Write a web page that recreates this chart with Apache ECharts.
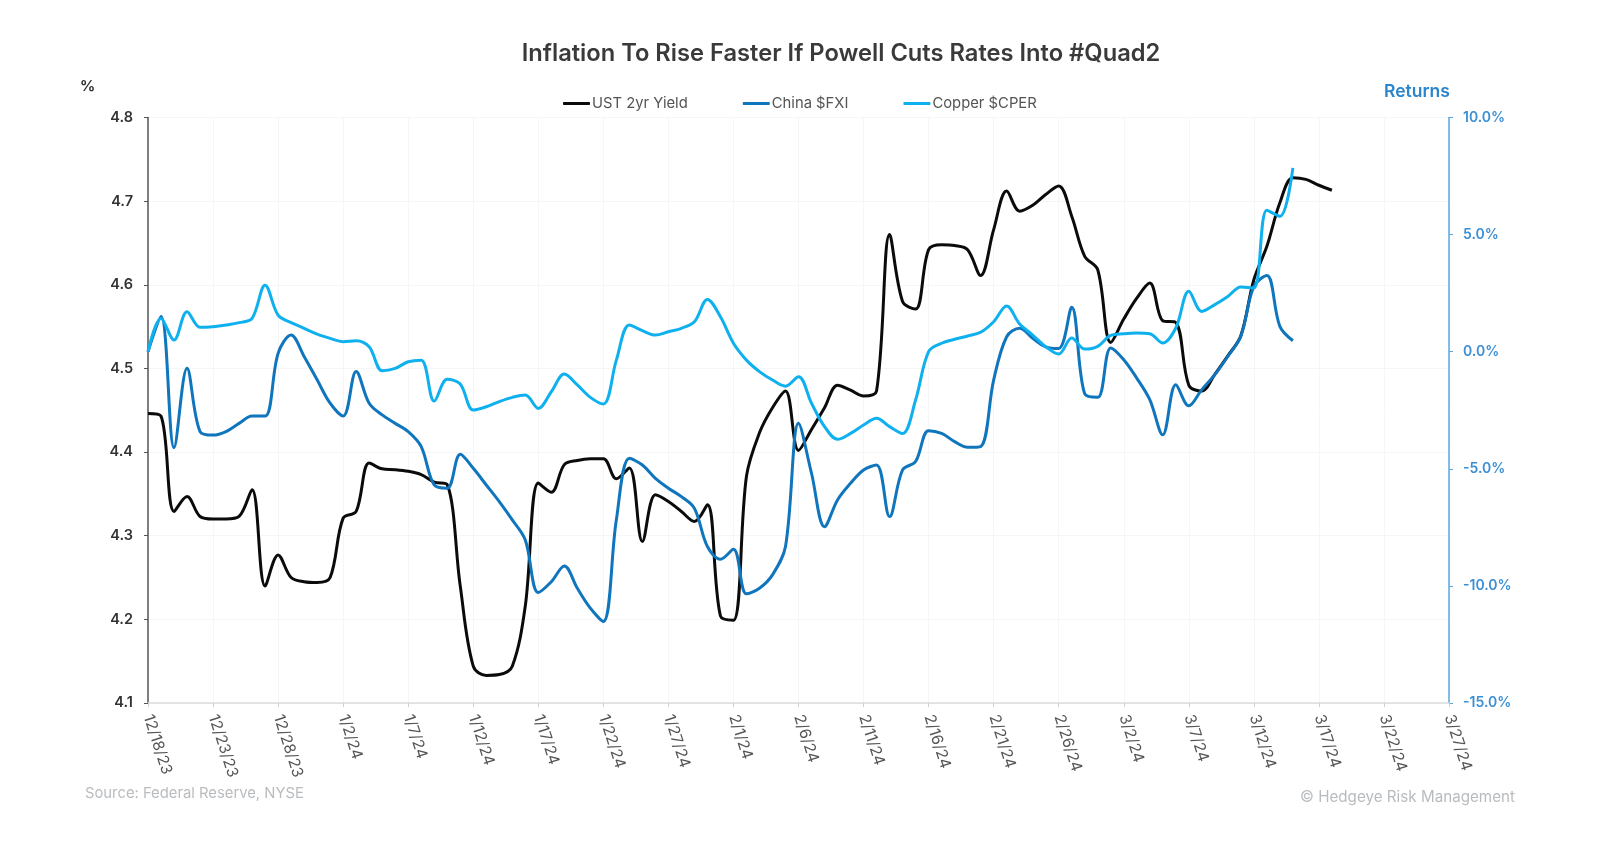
<!DOCTYPE html>
<html>
<head>
<meta charset="utf-8">
<title>Inflation To Rise Faster If Powell Cuts Rates Into #Quad2</title>
<script src="https://cdn.jsdelivr.net/npm/echarts@6/dist/echarts.min.js"></script>
<style>
html,body{margin:0;padding:0;background:#fff}
#main{width:1600px;height:855px}
</style>
</head>
<body>
<div id="main"></div>
<script>
// daily values, first value is 12/18/23
var ust2y = [4.446,4.443,4.329,4.347,4.323,4.32,4.32,4.323,4.355,4.24,4.277,4.25,4.245,4.244,4.25,4.321,4.329,4.387,4.38,4.379,
  4.377,4.373,4.364,4.361,4.24,4.144,4.133,4.134,4.144,4.216,4.363,4.352,4.385,4.39,4.392,4.392,4.368,4.381,4.293,4.349,
  4.341,4.329,4.317,4.337,4.204,4.199,4.371,4.423,4.453,4.473,4.402,4.427,4.453,4.48,4.474,4.467,4.473,4.66,4.58,4.571,
  4.642,4.648,4.647,4.642,4.611,4.666,4.712,4.688,4.695,4.708,4.718,4.682,4.634,4.618,4.531,4.559,4.584,4.602,4.557,4.555,
  4.48,4.473,4.493,4.515,4.539,4.606,4.646,4.698,4.728,4.726,4.719,4.713];
var fxi = [0,1.5,-4.1,-0.71,-3.41,-3.56,-3.41,-3.06,-2.75,-2.75,-0.07,0.71,-0.2,-1.2,-2.2,-2.75,-0.85,-2.2,-2.7,-3.06,
  -3.41,-4.05,-5.69,-5.83,-4.38,-4.98,-5.69,-6.4,-7.18,-8.04,-10.28,-9.82,-9.15,-10.1,-10.95,-11.52,-7.18,-4.55,-4.84,-5.41,
  -5.83,-6.19,-6.69,-8.32,-8.86,-8.44,-10.34,-10.1,-9.53,-8.32,-3.06,-5.19,-7.47,-6.33,-5.62,-5.05,-4.84,-7.04,-5.05,-4.69,
  -3.37,-3.49,-3.84,-4.08,-4.05,-1.21,0.64,1.0,0.57,0.21,0.14,1.9,-1.8,-1.95,0.16,-0.34,-1.13,-2.05,-3.55,-1.41,
  -2.31,-1.62,-0.98,-0.2,0.66,2.79,3.25,1.08,0.47];
var cper = [0,1.42,0.5,1.71,1.04,1.07,1.14,1.24,1.42,2.84,1.56,1.24,1.0,0.75,0.57,0.43,0.47,0.21,-0.81,-0.71,
  -0.43,-0.36,-2.11,-1.18,-1.38,-2.49,-2.35,-2.13,-1.95,-1.85,-2.42,-1.71,-0.95,-1.42,-1.95,-2.23,-0.36,1.14,0.9,0.71,
  0.85,1.0,1.28,2.23,1.49,0.36,-0.36,-0.85,-1.21,-1.47,-1.07,-2.2,-3.2,-3.74,-3.49,-3.13,-2.84,-3.2,-3.49,-2.06,
  0,0.36,0.53,0.67,0.83,1.28,1.95,1.18,0.71,0.21,-0.1,0.58,0.11,0.23,0.7,0.77,0.8,0.77,0.37,1.01,
  2.58,1.72,2.01,2.36,2.76,2.72,6.04,5.78,7.85];

var seriesNames = ['UST 2yr Yield', 'China $FXI', 'Copper $CPER'];
var seriesColors = ['#0b0b0b', '#0f75bd', '#0fb0ee'];

// one category per calendar day, 12/18/23 to 3/27/24
var dates = [];
(function() {
  var d = new Date(2023, 11, 18);
  for (var i = 0; i <= 100; i++) {
    dates.push((d.getMonth() + 1) + '/' + d.getDate() + '/' + String(d.getFullYear()).slice(2));
    d.setDate(d.getDate() + 1);
  }
})();

var font = 'Inter';

function lineSeries(i, data, yAxisIndex) {
  return {
    name: seriesNames[i],
    type: 'line',
    data: data,
    yAxisIndex: yAxisIndex,
    smooth: 0.35,
    showSymbol: false,
    lineStyle: {color: seriesColors[i], width: 3},
    itemStyle: {color: seriesColors[i]}
  };
}

var myChart = echarts.init(document.getElementById('main'), null, {renderer: 'canvas'});
var option = {
  backgroundColor: '#fff',
  animation: false,
  textStyle: {fontFamily: font},
  title: {
    text: 'Inflation To Rise Faster If Powell Cuts Rates Into #Quad2',
    left: 836, top: 37, textAlign: 'center',
    textStyle: {fontFamily: font, fontSize: 23.7, fontWeight: 600, color: '#3a3a3a'}
  },
  legend: {
    left: 558, top: 91,
    itemWidth: 27, itemHeight: 3, itemGap: 55,
    icon: 'roundRect',
    textStyle: {fontFamily: font, fontSize: 14.8, color: '#555', padding: [0, 0, 0, -3]},
    data: seriesNames
  },
  grid: {left: 148, top: 117.5, width: 1301, height: 585.5, containLabel: false},
  xAxis: {
    type: 'category',
    data: dates,
    boundaryGap: false,
    axisLine: {onZero: false, lineStyle: {color: '#dcdcdc', width: 1.5}},
    axisTick: {alignWithLabel: true, interval: 4, length: 4, lineStyle: {color: '#cfcfcf'}},
    axisLabel: {interval: 4, rotate: -72, margin: 12, fontFamily: font, fontSize: 15.5, color: '#555', hideOverlap: false},
    splitLine: {show: true, interval: 4, lineStyle: {color: '#f4f6f7', width: 1}}
  },
  yAxis: [
    {
      type: 'value', min: 4.1, max: 4.8, interval: 0.1,
      axisLine: {show: true, lineStyle: {color: '#555', width: 1.5}},
      axisTick: {show: true, length: 4, lineStyle: {color: '#555'}},
      axisLabel: {margin: 15, fontFamily: font, fontSize: 14.5, fontWeight: 600, color: '#333',
        formatter: function(v) { return v.toFixed(1); }},
      splitLine: {show: true, lineStyle: {color: '#f4f6f7', width: 1}}
    },
    {
      type: 'value', min: -15, max: 10, interval: 5, position: 'right',
      axisLine: {show: true, lineStyle: {color: '#5ba7dd', width: 1.5}},
      axisTick: {show: true, length: 4, lineStyle: {color: '#5ba7dd'}},
      axisLabel: {margin: 14, fontFamily: font, fontSize: 14, fontWeight: 600, color: '#3b8fd4',
        formatter: function(v) { return v.toFixed(1) + '%'; }},
      splitLine: {show: false}
    }
  ],
  graphic: [
    {type: 'text', left: 80, top: 79, style: {text: '%', fontFamily: font, fontSize: 15, fontWeight: 700, fill: '#333'}},
    {type: 'text', left: 1384, top: 83, style: {text: 'Returns', fontFamily: font, fontSize: 17.5, fontWeight: 600, fill: '#2a85cc'}},
    {type: 'text', left: 85, top: 786, style: {text: 'Source: Federal Reserve, NYSE', fontFamily: font, fontSize: 14.8, fill: '#b9bcbf'}},
    {type: 'text', left: 1300, top: 790, style: {text: '© Hedgeye Risk Management', fontFamily: font, fontSize: 15.2, fill: '#b9bcbf'}}
  ],
  series: [
    lineSeries(0, ust2y, 0),
    lineSeries(1, fxi, 1),
    lineSeries(2, cper, 1)
  ]
};
myChart.setOption(option);
</script>
</body>
</html>
